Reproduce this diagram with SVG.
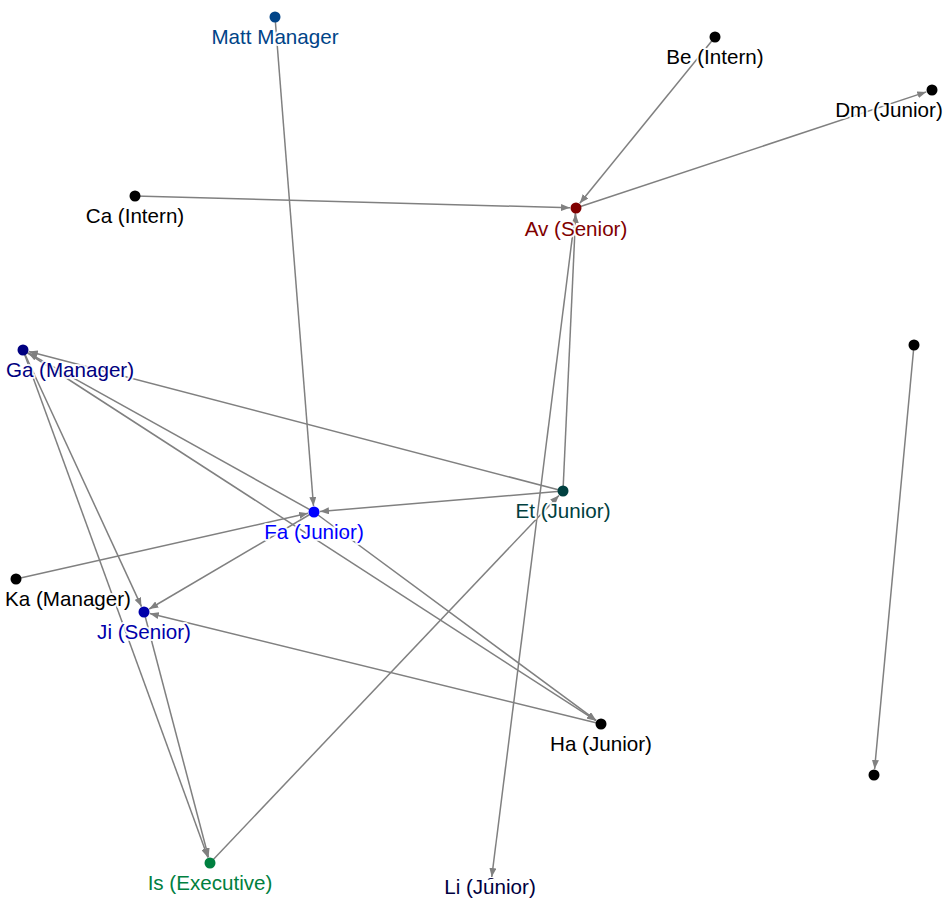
<svg xmlns="http://www.w3.org/2000/svg" width="950" height="905" viewBox="0 0 950 905">
<style>
.e{stroke:#808080;stroke-width:1.5;fill:none;marker-end:url(#arr)}
.l{font-family:"Liberation Sans",Arial,sans-serif;font-size:20.6px;text-anchor:middle;stroke:#fff;stroke-width:4;stroke-opacity:0.9;paint-order:stroke;stroke-linejoin:round}
</style>
<defs>
<marker id="arr" markerUnits="userSpaceOnUse" markerWidth="9" markerHeight="7" refX="9" refY="3.5" orient="auto"><path d="M0,0 L9,3.5 L0,7 z" fill="#808080"/></marker>
</defs>
<rect width="950" height="905" fill="#fff"/>
<g id="connectors">
<line class="e" x1="275" y1="17" x2="313.5" y2="506"/>
<line class="e" x1="715" y1="37" x2="579.8" y2="203.3"/>
<line class="e" x1="576" y1="208" x2="926.3" y2="91.9"/>
<line class="e" x1="135" y1="196" x2="570" y2="207.8"/>
<line class="e" x1="563" y1="491" x2="575.7" y2="214"/>
<line class="e" x1="563" y1="491" x2="28.8" y2="351.5"/>
<line class="e" x1="314" y1="512" x2="28.2" y2="352.9"/>
<line class="e" x1="23" y1="350" x2="596" y2="720.7"/>
<line class="e" x1="314" y1="512" x2="596.2" y2="720.4"/>
<line class="e" x1="23" y1="350" x2="141.5" y2="606.6"/>
<line class="e" x1="23" y1="350" x2="207.9" y2="857.4"/>
<line class="e" x1="144" y1="612" x2="208.5" y2="857.2"/>
<line class="e" x1="314" y1="512" x2="149.2" y2="609"/>
<line class="e" x1="601" y1="724" x2="149.8" y2="613.4"/>
<line class="e" x1="16" y1="579" x2="308.1" y2="513.3"/>
<line class="e" x1="563" y1="491" x2="320" y2="511.5"/>
<line class="e" x1="210" y1="863" x2="558.9" y2="495.4"/>
<line class="e" x1="576" y1="208" x2="491.75" y2="877"/>
<line class="e" x1="914" y1="345" x2="874.6" y2="769"/>
</g>
<g id="n-matt"><circle cx="275" cy="17" r="5.5" fill="#004488"/><text class="l" x="275" y="44" fill="#004488">Matt Manager</text></g>
<g id="n-be"><circle cx="715" cy="37" r="5.5" fill="#000"/><text class="l" x="715" y="64" fill="#000">Be (Intern)</text></g>
<g id="n-dm"><circle cx="932" cy="90" r="5.5" fill="#000"/><text class="l" x="889" y="117" fill="#000">Dm (Junior)</text></g>
<g id="n-ca"><circle cx="135" cy="196" r="5.5" fill="#000"/><text class="l" x="135" y="223" fill="#000">Ca (Intern)</text></g>
<g id="n-av"><circle cx="576" cy="208" r="5.5" fill="#800000"/><text class="l" x="576" y="236" fill="#800000">Av (Senior)</text></g>
<g id="n-ga"><circle cx="23" cy="350" r="5.5" fill="#000080"/><text class="l" x="70" y="377" fill="#000080">Ga (Manager)</text></g>
<g id="n-fa"><circle cx="314" cy="512" r="5.5" fill="#0000ff"/><text class="l" x="314" y="539" fill="#0000ff">Fa (Junior)</text></g>
<g id="n-et"><circle cx="563" cy="491" r="5.5" fill="#004040"/><text class="l" x="563" y="518" fill="#004040">Et (Junior)</text></g>
<g id="n-ka"><circle cx="16" cy="579" r="5.5" fill="#000"/><text class="l" x="68" y="606" fill="#000">Ka (Manager)</text></g>
<g id="n-ji"><circle cx="144" cy="612" r="5.5" fill="#0000aa"/><text class="l" x="144" y="639" fill="#0000aa">Ji (Senior)</text></g>
<g id="n-ha"><circle cx="601" cy="724" r="5.5" fill="#000"/><text class="l" x="601" y="751" fill="#000">Ha (Junior)</text></g>
<g id="n-is"><circle cx="210" cy="863" r="5.5" fill="#008040"/><text class="l" x="210" y="890" fill="#008040">Is (Executive)</text></g>
<g id="n-li"><circle cx="491" cy="883" r="5" fill="#000040"/><text class="l" x="490" y="894" fill="#000040" style="stroke-width:8;stroke-opacity:1">Li (Junior)</text></g>
<g id="n-x1"><circle cx="914" cy="345" r="5.5" fill="#000"/></g>
<g id="n-x2"><circle cx="874" cy="775" r="5.5" fill="#000"/></g>
</svg>
